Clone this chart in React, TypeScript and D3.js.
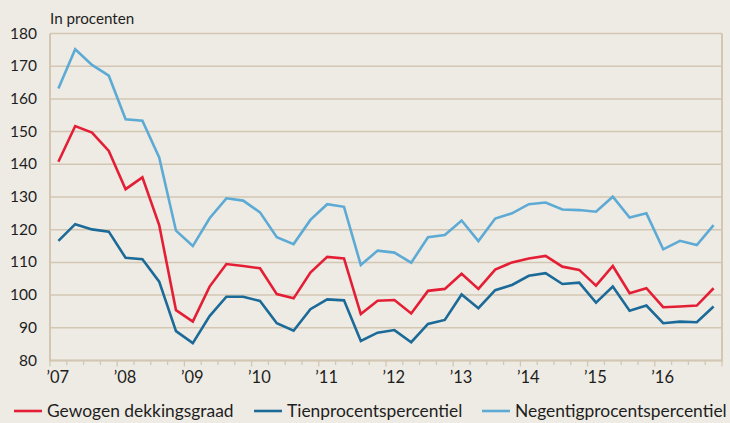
import React from "react";
import * as d3 from "d3";

// quarterly values 2007Q1 .. 2016Q4
const dekkingsgraad = [
  140.8, 151.7, 149.7, 144.1, 132.4, 136.0, 121.4, 95.4, 91.9, 102.6,
  109.5, 108.9, 108.2, 100.3, 99.0, 106.9, 111.7, 111.2, 94.2, 98.3,
  98.5, 94.4, 101.3, 101.9, 106.5, 101.9, 107.8, 110.0, 111.2, 112.0,
  108.7, 107.7, 102.9, 108.9, 100.6, 102.1, 96.3, 96.5, 96.8, 102.1,
];
const tienProcent = [
  116.6, 121.7, 120.1, 119.4, 111.4, 111.0, 104.1, 89.0, 85.3, 93.6,
  99.5, 99.5, 98.2, 91.4, 89.1, 95.7, 98.7, 98.4, 86.0, 88.5,
  89.3, 85.6, 91.2, 92.4, 100.2, 96.0, 101.5, 103.1, 105.9, 106.7,
  103.4, 103.8, 97.7, 102.6, 95.2, 96.8, 91.4, 91.9, 91.7, 96.5,
];
const negentigProcent = [
  163.2, 175.2, 170.4, 167.1, 153.8, 153.3, 142.1, 119.7, 115.0, 123.5,
  129.6, 128.9, 125.3, 117.7, 115.6, 123.0, 127.8, 127.0, 109.2, 113.6,
  113.0, 109.9, 117.7, 118.4, 122.8, 116.5, 123.4, 125.0, 127.8, 128.3,
  126.2, 126.0, 125.5, 130.1, 123.7, 125.0, 114.0, 116.6, 115.3, 121.4,
];
const years = [2007, 2008, 2009, 2010, 2011, 2012, 2013, 2014, 2015, 2016];
const yTicks = [80, 90, 100, 110, 120, 130, 140, 150, 160, 170, 180];

const series = [
  { name: "Gewogen dekkingsgraad", values: dekkingsgraad, color: "#e41f35" },
  { name: "Tienprocentspercentiel", values: tienProcent, color: "#1b6a98" },
  { name: "Negentigprocentspercentiel", values: negentigProcent, color: "#5daad5" },
];

const W = 730;
const H = 423;
const margin = { left: 50, right: 8, top: 33.5, bottom: 62.5 };
const font = "Lato, 'Open Sans', sans-serif";
const grid = "#d3c7b3";
const ink = "#1e1e1e";

export default function App() {
  const x = d3
    .scaleLinear()
    .domain([2007, 2017])
    .range([margin.left, W - margin.right]);
  const y = d3
    .scaleLinear()
    .domain([80, 180])
    .range([H - margin.bottom, margin.top]);

  const line = d3
    .line<number>()
    .x((_, i) => x(2007 + (i + 0.5) / 4))
    .y((d) => y(d));

  const quarters = d3.range(0, 41).map((q) => 2007 + q / 4);
  const legendX = [14, 254, 482];

  return (
    <div style={{ position: "absolute", left: 0, top: 0 }}>
      <svg width={W} height={H} style={{ display: "block", fontFamily: font }}>
        <rect width={W} height={H} fill="#eeebe4" />

        <text x={50} y={24} fontSize={15.2} fill={ink}>
          In procenten
        </text>

        {/* grid lines + y labels */}
        {yTicks.map((t) => (
          <g key={t}>
            <line x1={x(2007)} x2={x(2017)} y1={y(t)} y2={y(t)} stroke={grid} strokeWidth={1.5} />
            <text x={37} y={y(t) + 5} textAnchor="end" fontSize={15.5} fill={ink}>
              {t}
            </text>
          </g>
        ))}

        {/* frame */}
        <line x1={x(2007)} x2={x(2007)} y1={y(180)} y2={y(80)} stroke={grid} strokeWidth={2} />
        <line x1={x(2017)} x2={x(2017)} y1={y(180)} y2={y(80)} stroke={grid} strokeWidth={2} />
        <line x1={x(2007) - 1} x2={x(2017) + 1} y1={y(80)} y2={y(80)} stroke={grid} strokeWidth={2} />

        {/* quarter ticks */}
        {quarters.map((q, i) => (
          <line
            key={i}
            x1={x(q)}
            x2={x(q)}
            y1={y(80)}
            y2={y(80) + (i % 4 === 0 ? 6 : 4.5)}
            stroke={grid}
            strokeWidth={1.3}
          />
        ))}

        {years.map((yr) => (
          <text key={yr} x={x(yr) - 3.5} y={383} fontSize={16.5} fill={ink}>
            {"\u2019" + String(yr).slice(2)}
          </text>
        ))}

        {series.map((s) => (
          <path
            key={s.name}
            d={line(s.values) || ""}
            fill="none"
            stroke={s.color}
            strokeWidth={2.6}
            strokeLinejoin="miter"
          />
        ))}

        {/* legend */}
        {series.map((s, i) => (
          <g key={s.name} transform={`translate(${legendX[i]},411)`}>
            <line x1={0} x2={28} y1={0} y2={0} stroke={s.color} strokeWidth={2.6} />
            <text x={33} y={6} fontSize={17.4} fill={ink}>
              {s.name}
            </text>
          </g>
        ))}
      </svg>
    </div>
  );
}
